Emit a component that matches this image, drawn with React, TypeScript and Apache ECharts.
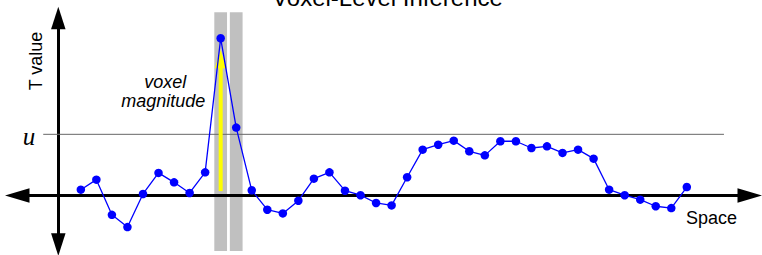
import React, { useEffect, useRef } from "react";
import * as echarts from "echarts";

// T value at each voxel (left to right)
const tValues = [
  0.29, 0.78, -0.94, -1.54, 0.08, 1.11, 0.65, 0.13, 1.14, 7.7,
  3.33, 0.26, -0.69, -0.87, -0.25, 0.83, 1.14, 0.24, 0.02, -0.36,
  -0.48, 0.9, 2.25, 2.49, 2.69, 2.17, 1.97, 2.66, 2.66, 2.33,
  2.41, 2.09, 2.25, 1.81, 0.29, 0.02, -0.2, -0.52, -0.61, 0.42,
];
// position (in voxel units) of the first voxel, from the T axis
const firstVoxel = 1.45;
const voxelPositions = tValues.map((_, i) => firstVoxel + i);

const threshold = 3;
const thresholdSpan = [-0.97, 42.84];
const highlightedVoxels = [9, 10];
const peakVoxel = 9;
const arrowRange = [0.22, 6.23, 7.13]; // start, head base, tip

const xRange = [-2.642, 44.5];
const yRange = [-2.398, 8.693];
const barRange = [-2.71, 8.97];

const titleText = "Voxel-Level Inference";
const yAxisName = "T value";
const xAxisName = "Space";
const thresholdName = "u";
const annotationLines = ["voxel", "magnitude"];

const SANS = '"Liberation Sans", Arial, Helvetica, sans-serif';
const SERIF = '"Liberation Serif", "Times New Roman", serif';

export default function App() {
  const ref = useRef<HTMLDivElement>(null);
  useEffect(() => {
    if (!ref.current) return;
    const chart = echarts.init(ref.current, undefined, { renderer: "svg" });
    const axisCommon = {
      type: "value" as const,
      splitLine: { show: false },
      axisTick: { show: false },
      axisLabel: { show: false },
    };
    chart.setOption({
      animation: false,
      grid: { left: 17.25, right: 12.25, top: 18, bottom: 10.4 },
      xAxis: {
        ...axisCommon,
        min: xRange[0],
        max: xRange[1],
        axisLine: {
          show: true,
          onZero: true,
          symbol: ["triangle", "triangle"],
          symbolSize: [14.5, 24.5],
          lineStyle: { color: "#000", width: 3 },
        },
      },
      yAxis: {
        ...axisCommon,
        min: yRange[0],
        max: yRange[1],
        axisLine: {
          show: true,
          onZero: true,
          symbol: ["triangle", "triangle"],
          symbolSize: [14.5, 22.6],
          lineStyle: { color: "#000", width: 3 },
        },
      },
      series: [
        {
          type: "custom",
          z: -1,
          silent: true,
          data: highlightedVoxels.map((i) => [voxelPositions[i], 0]),
          renderItem: (params: any, api: any) => {
            const x = api.value(0);
            const top = api.coord([x, barRange[1]]);
            const bot = api.coord([x, barRange[0]]);
            const w = api.size([0.82, 0])[0];
            return {
              type: "rect",
              shape: { x: top[0] - w / 2, y: top[1], width: w, height: bot[1] - top[1] },
              style: { fill: "#c0c0c0" },
            };
          },
        },
        {
          type: "line",
          z: 1,
          silent: true,
          symbol: "none",
          data: thresholdSpan.map((x) => [x, threshold]),
          lineStyle: { color: "#666", width: 1 },
        },
        {
          type: "custom",
          z: 2,
          silent: true,
          data: [[voxelPositions[peakVoxel], arrowRange[0], arrowRange[1], arrowRange[2]]],
          renderItem: (params: any, api: any) => {
            const x = api.value(0);
            const p0 = api.coord([x, api.value(1)]);
            const p1 = api.coord([x, api.value(2)]);
            const p2 = api.coord([x, api.value(3)]);
            const hw = 5.85;
            return {
              type: "group",
              children: [
                {
                  type: "rect",
                  shape: { x: p0[0] - 2, y: p1[1] - 1, width: 4, height: p0[1] - p1[1] + 1 },
                  style: { fill: "#ffff00" },
                },
                {
                  type: "polygon",
                  shape: { points: [[p1[0] - hw, p1[1]], [p1[0] + hw, p1[1]], [p2[0], p2[1]]] },
                  style: { fill: "#ffff00" },
                },
              ],
            };
          },
        },
        {
          type: "line",
          z: 3,
          silent: true,
          data: voxelPositions.map((x, i) => [x, tValues[i]]),
          symbol: "circle",
          symbolSize: 8.5,
          showAllSymbol: true,
          lineStyle: { color: "#0000ff", width: 1.3 },
          itemStyle: { color: "#0000ff" },
        },
      ],
      graphic: [
        {
          type: "text",
          x: 387.5,
          y: 9,
          style: { text: titleText, font: `24px ${SANS}`, fill: "#000", align: "center", verticalAlign: "bottom" },
        },
        {
          type: "text",
          x: 35.5,
          y: 61,
          rotation: Math.PI / 2,
          style: { text: yAxisName, font: `18px ${SANS}`, fill: "#000", align: "center", verticalAlign: "middle" },
        },
        {
          type: "text",
          x: 711.5,
          y: 217.5,
          style: { text: xAxisName, font: `18px ${SANS}`, fill: "#000", align: "center", verticalAlign: "middle" },
        },
        {
          type: "text",
          x: 29,
          y: 136.5,
          style: { text: thresholdName, font: `italic 25px ${SERIF}`, fill: "#000", align: "center", verticalAlign: "middle" },
        },
        {
          type: "text",
          x: 165.3,
          y: 81.5,
          style: { text: annotationLines[0], font: `italic 18px ${SANS}`, fill: "#000", align: "center", verticalAlign: "middle" },
        },
        {
          type: "text",
          x: 163.3,
          y: 100.5,
          style: { text: annotationLines[1], font: `italic 18px ${SANS}`, fill: "#000", align: "center", verticalAlign: "middle" },
        },
      ],
    });
    return () => chart.dispose();
  }, []);
  return (
    <div
      ref={ref}
      style={{ position: "absolute", left: 0, top: 0, width: 762, height: 255 }}
    />
  );
}
